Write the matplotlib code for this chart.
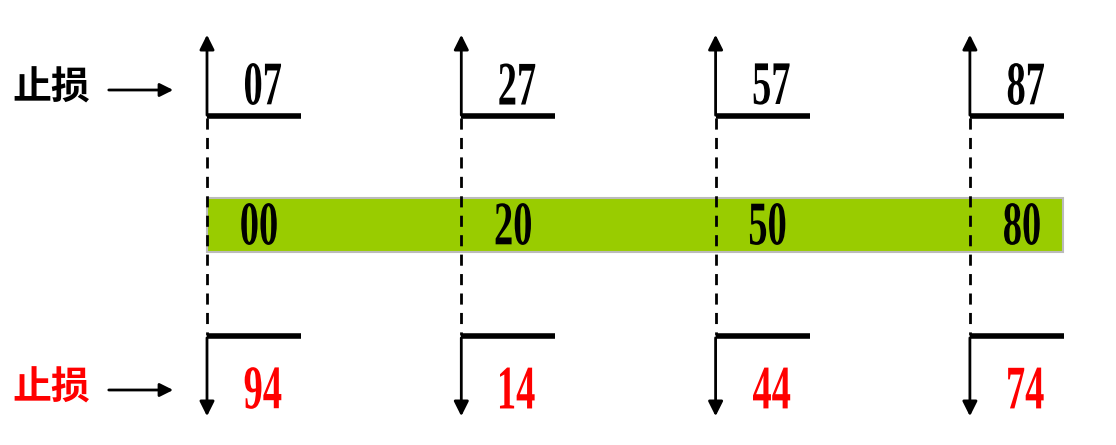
import matplotlib
matplotlib.use("Agg")
import matplotlib.pyplot as plt
from matplotlib.patches import Rectangle, PathPatch
from matplotlib.textpath import TextPath
from matplotlib.font_manager import FontProperties
from matplotlib.transforms import Affine2D

top_labels = ["07", "27", "57", "87"]
mid_labels = ["00", "20", "50", "80"]
bottom_labels = ["94", "14", "44", "74"]
side_label = "止损"

W, H = 1116, 445
fig = plt.figure(figsize=(W/100, H/100), dpi=100)
ax = fig.add_axes([0, 0, 1, 1])
ax.set_xlim(0, W); ax.set_ylim(H, 0); ax.axis("off")

fp = FontProperties(family="Liberation Serif", weight="bold")

def squeezed(txt, cx, cy, color, z=4):
    tp = TextPath((0, 0), txt, size=62, prop=fp)
    bb = tp.get_extents()
    sx, sy = 0.62, 1.0
    tr = (Affine2D().translate(-(bb.x0 + bb.x1) / 2, -(bb.y0 + bb.y1) / 2)
          .scale(sx, -sy).translate(cx, cy))
    ax.add_patch(PathPatch(tr.transform_path(tp), facecolor=color, edgecolor="none", zorder=z))

x0, dx = 207, 254.3
ax.add_patch(Rectangle((x0, 198), 1063 - x0, 54, facecolor="#99CC00",
                       edgecolor="#bbbbbb", lw=1.5, zorder=1))
for i in range(len(top_labels)):
    x = x0 + i * dx
    ax.annotate("", xy=(x, 32), xytext=(x, 118),
                arrowprops=dict(arrowstyle="-|>", color="black", lw=2, mutation_scale=22))
    ax.annotate("", xy=(x, 419), xytext=(x, 335),
                arrowprops=dict(arrowstyle="-|>", color="black", lw=2, mutation_scale=22))
    ax.plot([x, x], [118, 335], color="black", lw=2, ls=(0, (4, 3)), zorder=3)
    ax.plot([x, x + 94], [116, 116], color="black", lw=4, solid_capstyle="butt")
    ax.plot([x, x + 94], [336, 336], color="black", lw=4, solid_capstyle="butt")
    squeezed(top_labels[i], x + 56, 84, "black")
    squeezed(mid_labels[i], x + 52, 224, "black")
    squeezed(bottom_labels[i], x + 56, 388, "#FF0000")

cjk = dict(family=["Noto Sans CJK SC", "DejaVu Sans"], fontsize=28, fontweight="bold")
ax.text(12, 88, side_label, ha="left", va="center", color="black", **cjk)
ax.text(12, 388, side_label, ha="left", va="center", color="#FF0000", **cjk)
for y in (90, 390):
    ax.annotate("", xy=(176, y), xytext=(106, y),
                arrowprops=dict(arrowstyle="-|>", color="black", lw=2, mutation_scale=20))

fig.savefig("out.png", dpi=100)
